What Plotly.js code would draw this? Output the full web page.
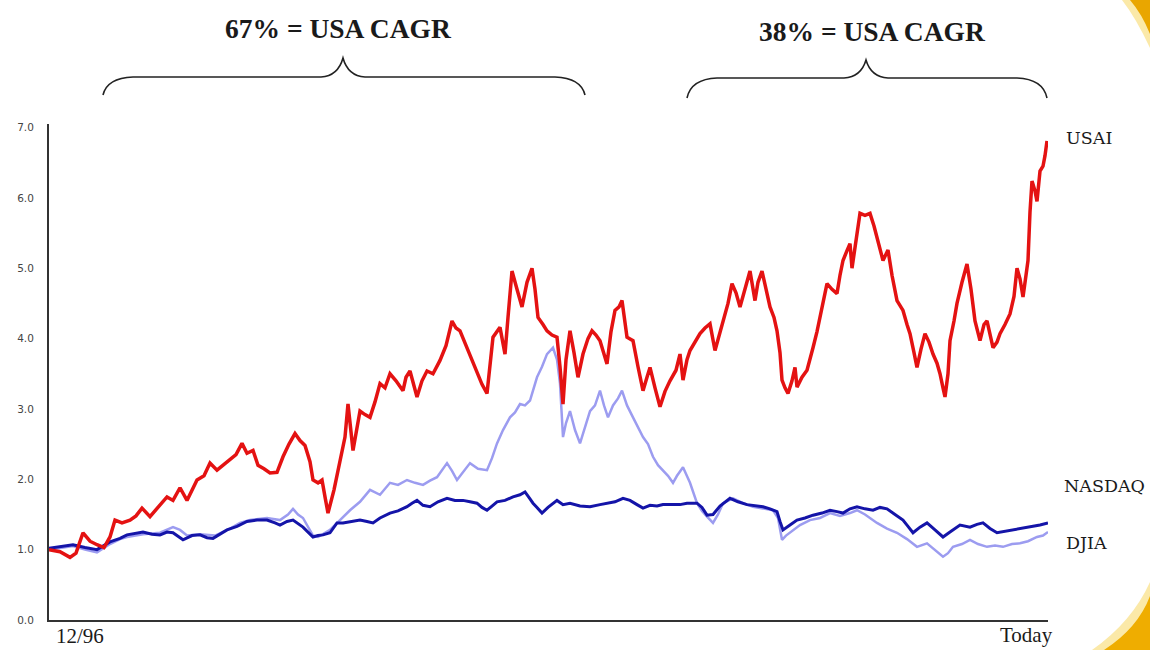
<!DOCTYPE html>
<html>
<head>
<meta charset="utf-8">
<script src="https://cdn.plot.ly/plotly-3.0.1.min.js"></script>
<style>html,body{margin:0;padding:0;background:#fff;}#chart{width:1150px;height:650px;}</style>
</head>
<body>
<div id="chart"></div>
<script>
// Time index (arbitrary period counter) and index values (12/96 = 1.0)
const usaiT = [49,60,70,76,83,90,97,104,110,115,122,130,136,142,150,158,167,173,180,187,192,197,204,210,217,223,230,236,242,247,253,258,264,270,277,283,289,295,300,305,310,313,318,322,325,328,334,340,345,348,353,356,360,365,370,375,380,385,390,396,403,406,410,417,422,427,433,440,446,452,456,460,467,472,477,482,487,490,493,500,505,508,512,517,522,527,532,535,538,543,547,552,557,560,563,566,570,574,578,583,588,592,596,600,604,607,611,615,619,622,627,633,638,643,647,650,655,660,665,670,676,680,683,687,690,695,700,705,710,715,719,723,728,732,736,740,745,750,755,758,762,766,770,774,777,780,782,785,788,792,795,797,802,807,810,813,817,820,824,827,832,837,840,843,847,850,852,856,860,865,870,874,878,883,888,892,897,903,907,910,914,917,921,925,929,933,937,940,943,945,948,950,954,957,962,967,971,975,980,984,987,990,993,997,1000,1005,1010,1014,1017,1020,1023,1026,1028,1030,1032,1035,1037,1040,1043,1045,1047];
const usaiV = [1.00,0.97,0.89,0.95,1.24,1.12,1.07,1.03,1.18,1.42,1.38,1.42,1.48,1.59,1.47,1.60,1.75,1.70,1.88,1.70,1.85,1.99,2.05,2.23,2.13,2.20,2.27,2.35,2.51,2.37,2.41,2.20,2.15,2.09,2.10,2.32,2.50,2.65,2.55,2.48,2.25,1.99,1.95,1.99,1.75,1.52,1.85,2.23,2.60,3.07,2.41,2.65,2.97,2.92,2.88,3.10,3.36,3.30,3.50,3.40,3.26,3.45,3.54,3.17,3.40,3.54,3.50,3.69,3.90,4.25,4.15,4.11,3.87,3.70,3.50,3.35,3.22,3.60,4.02,4.16,3.78,4.30,4.96,4.70,4.45,4.80,5.00,4.70,4.30,4.20,4.11,4.05,4.02,3.60,3.07,3.70,4.11,3.80,3.45,3.78,4.00,4.11,4.05,3.97,3.80,3.64,4.10,4.40,4.45,4.54,4.02,3.97,3.60,3.26,3.45,3.59,3.30,3.03,3.25,3.40,3.55,3.78,3.41,3.70,3.83,3.95,4.07,4.15,4.21,3.83,4.05,4.25,4.50,4.78,4.65,4.45,4.70,4.96,4.54,4.80,4.96,4.70,4.45,4.30,4.11,3.80,3.41,3.30,3.22,3.40,3.59,3.31,3.45,3.55,3.70,3.87,4.10,4.30,4.55,4.78,4.70,4.64,4.90,5.11,5.25,5.35,5.00,5.40,5.78,5.75,5.78,5.60,5.40,5.11,5.26,4.90,4.54,4.40,4.20,4.07,3.80,3.59,3.85,4.07,3.95,3.78,3.65,3.50,3.30,3.17,3.50,3.97,4.25,4.50,4.80,5.06,4.70,4.25,3.97,4.20,4.25,4.05,3.87,3.95,4.07,4.20,4.35,4.60,5.00,4.85,4.59,4.90,5.11,5.80,6.24,6.10,5.95,6.38,6.45,6.60,6.81];

const nasdaqT = [49,60,73,85,97,110,120,127,143,160,173,180,187,200,215,230,240,250,267,280,288,293,298,303,313,318,323,330,340,350,360,370,380,390,398,407,415,423,430,437,447,452,457,463,470,478,487,492,497,503,510,515,520,525,530,537,542,547,553,557,560,563,566,570,575,580,585,590,595,600,604,608,613,618,622,627,633,638,643,648,653,658,663,668,673,677,683,690,697,702,707,713,718,723,733,743,753,763,773,778,782,786,790,800,810,820,830,840,850,857,865,877,887,897,907,917,927,935,943,948,953,962,970,978,987,995,1003,1012,1020,1028,1037,1043,1048];
const nasdaqV = [1.00,1.02,1.05,1.00,0.96,1.08,1.15,1.18,1.22,1.24,1.32,1.28,1.20,1.22,1.20,1.30,1.38,1.42,1.45,1.42,1.50,1.58,1.50,1.45,1.20,1.18,1.22,1.28,1.42,1.56,1.68,1.85,1.78,1.95,1.92,1.99,1.95,1.92,1.98,2.03,2.23,2.12,1.99,2.10,2.23,2.15,2.13,2.30,2.51,2.70,2.88,2.95,3.07,3.05,3.12,3.45,3.60,3.78,3.87,3.70,3.36,2.60,2.80,2.97,2.70,2.51,2.75,2.97,3.05,3.26,3.05,2.88,3.05,3.15,3.26,3.05,2.88,2.75,2.60,2.50,2.32,2.20,2.13,2.05,1.95,2.05,2.17,1.95,1.66,1.55,1.47,1.38,1.50,1.66,1.73,1.66,1.61,1.58,1.56,1.45,1.14,1.20,1.24,1.35,1.42,1.45,1.52,1.48,1.52,1.56,1.50,1.38,1.30,1.24,1.15,1.04,1.09,1.00,0.90,0.95,1.04,1.08,1.14,1.08,1.04,1.06,1.04,1.08,1.09,1.12,1.18,1.20,1.25];

const djiaT = [49,60,73,85,97,110,120,127,135,143,152,160,167,173,183,192,200,207,213,220,227,237,247,257,267,275,280,287,293,303,308,313,318,323,330,337,343,350,360,367,373,380,390,398,407,412,417,423,430,438,447,455,463,470,477,482,487,492,497,505,513,520,525,530,533,537,542,548,552,557,563,570,580,590,600,607,615,623,630,637,643,650,657,663,670,680,687,697,702,707,713,720,730,738,747,755,763,770,777,780,783,790,797,805,813,822,830,837,843,850,857,865,873,880,887,895,903,908,913,920,927,935,943,950,960,970,977,983,990,997,1005,1013,1020,1030,1040,1048];
const djiaV = [1.02,1.04,1.07,1.03,1.00,1.11,1.16,1.21,1.23,1.25,1.22,1.21,1.25,1.24,1.14,1.20,1.21,1.17,1.16,1.22,1.28,1.33,1.40,1.42,1.42,1.38,1.35,1.40,1.42,1.32,1.25,1.18,1.20,1.21,1.24,1.38,1.38,1.40,1.42,1.40,1.38,1.45,1.52,1.55,1.61,1.66,1.70,1.63,1.61,1.68,1.73,1.70,1.70,1.68,1.66,1.60,1.56,1.62,1.68,1.70,1.75,1.78,1.82,1.72,1.66,1.60,1.52,1.60,1.65,1.70,1.64,1.66,1.62,1.61,1.64,1.66,1.68,1.73,1.70,1.64,1.59,1.63,1.62,1.64,1.64,1.64,1.66,1.66,1.60,1.49,1.50,1.62,1.73,1.68,1.64,1.62,1.61,1.58,1.54,1.40,1.28,1.35,1.42,1.45,1.49,1.52,1.56,1.54,1.52,1.58,1.61,1.58,1.56,1.60,1.58,1.50,1.42,1.33,1.24,1.32,1.38,1.28,1.18,1.25,1.35,1.32,1.36,1.38,1.30,1.24,1.26,1.28,1.30,1.32,1.35,1.38];

const yTicks = [0,1,2,3,4,5,6,7];
const seriesNames = ['USAI','NASDAQ','DJIA'];
const bracketTexts = ['67% = USA CAGR','38% = USA CAGR'];
const startLabel = '12/96';
const endLabel = 'Today';

// Layout geometry (pixels)
const W = 1150, H = 650, ML = 49, MR = 102, MT = 124, MB = 30;
const PW = W - ML - MR, PH = H - MT - MB;
const px = x => (x - ML) / PW;
const py = y => (H - MB - y) / PH;
const pt = (x, y) => px(x).toFixed(5) + ',' + py(y).toFixed(5);

function brace(x0, x1, xa, yh, yt, ya) {
  return 'M' + pt(x0, yt) +
    ' Q' + pt(x0 + 4, yh + 1) + ' ' + pt(x0 + 30, yh) +
    ' L' + pt(xa - 22, yh) +
    ' Q' + pt(xa - 5, yh - 1) + ' ' + pt(xa, ya) +
    ' Q' + pt(xa + 5, yh - 1) + ' ' + pt(xa + 22, yh) +
    ' L' + pt(x1 - 30, yh) +
    ' Q' + pt(x1 - 4, yh + 1) + ' ' + pt(x1, yt);
}

const traces = [
  {x: nasdaqT, y: nasdaqV, name: seriesNames[1], mode: 'lines', line: {color: '#9c9cf0', width: 2.5}},
  {x: djiaT, y: djiaV, name: seriesNames[2], mode: 'lines', line: {color: '#1414a8', width: 3}},
  {x: usaiT, y: usaiV, name: seriesNames[0], mode: 'lines', line: {color: '#e41212', width: 3.5}}
];

const serif = 'Liberation Serif';
const labelFont = {family: 'DejaVu Serif', size: 17.5, color: '#1a1a1a'};
const titleFont = {family: serif, size: 27.5, weight: 'bold', color: '#1a1a1a'};

const layout = {
  width: W, height: H,
  margin: {l: ML, r: MR, t: MT, b: MB, pad: 0},
  paper_bgcolor: '#ffffff', plot_bgcolor: '#ffffff',
  showlegend: false,
  xaxis: {range: [49, 1048], showgrid: false, zeroline: false, showline: true, linecolor: '#333', linewidth: 2,
          showticklabels: false, ticks: '', fixedrange: true},
  yaxis: {range: [0, 7.05], showgrid: false, zeroline: false, showline: true, linecolor: '#333', linewidth: 2,
          tickvals: yTicks, tickformat: '.1f', ticks: '', ticklabelstandoff: 11,
          tickfont: {family: 'DejaVu Sans', size: 10.5, color: '#444'}, fixedrange: true},
  shapes: [
    {type: 'path', xref: 'paper', yref: 'paper', path: brace(103, 585, 343, 77, 95, 58), line: {color: '#222', width: 1.6}},
    {type: 'path', xref: 'paper', yref: 'paper', path: brace(687, 1047, 866, 78, 98, 60), line: {color: '#222', width: 1.6}},
    {type: 'path', xref: 'paper', yref: 'paper', line: {width: 0}, fillcolor: '#fbe9a8',
     path: 'M' + pt(1122, 0) + ' Q' + pt(1136, 18) + ' ' + pt(1150, 48) + ' L' + pt(1150, 0) + ' Z'},
    {type: 'path', xref: 'paper', yref: 'paper', line: {width: 0}, fillcolor: '#e9a600',
     path: 'M' + pt(1130, 0) + ' Q' + pt(1142, 14) + ' ' + pt(1150, 34) + ' L' + pt(1150, 0) + ' Z'},
    {type: 'path', xref: 'paper', yref: 'paper', line: {width: 0}, fillcolor: '#fbe9a8',
     path: 'M' + pt(1092, 650) + ' Q' + pt(1132, 622) + ' ' + pt(1150, 582) + ' L' + pt(1150, 650) + ' Z'},
    {type: 'path', xref: 'paper', yref: 'paper', line: {width: 0}, fillcolor: '#efad00',
     path: 'M' + pt(1104, 650) + ' Q' + pt(1138, 628) + ' ' + pt(1150, 596) + ' L' + pt(1150, 650) + ' Z'}
  ],
  annotations: [
    {text: bracketTexts[0], xref: 'paper', yref: 'paper', x: px(338), y: py(29), showarrow: false,
     xanchor: 'center', yanchor: 'middle', font: titleFont},
    {text: bracketTexts[1], xref: 'paper', yref: 'paper', x: px(872), y: py(31), showarrow: false,
     xanchor: 'center', yanchor: 'middle', font: titleFont},
    {text: seriesNames[0], xref: 'paper', yref: 'paper', x: px(1064), y: py(138), showarrow: false,
     xanchor: 'left', yanchor: 'middle', font: labelFont},
    {text: seriesNames[1], xref: 'paper', yref: 'paper', x: px(1062), y: py(486), showarrow: false,
     xanchor: 'left', yanchor: 'middle', font: labelFont},
    {text: seriesNames[2], xref: 'paper', yref: 'paper', x: px(1064), y: py(543), showarrow: false,
     xanchor: 'left', yanchor: 'middle', font: labelFont},
    {text: startLabel, xref: 'x', yref: 'paper', x: usaiT[0], xshift: 5, y: py(636), showarrow: false,
     xanchor: 'left', yanchor: 'middle', font: {family: serif, size: 21, color: '#1a1a1a'}},
    {text: endLabel, xref: 'x', yref: 'paper', x: usaiT[usaiT.length - 1], xshift: 8, y: py(635), showarrow: false,
     xanchor: 'right', yanchor: 'middle', font: {family: serif, size: 21, color: '#1a1a1a'}}
  ]
};

Plotly.newPlot('chart', traces, layout, {displayModeBar: false, staticPlot: true});
</script>
</body>
</html>
